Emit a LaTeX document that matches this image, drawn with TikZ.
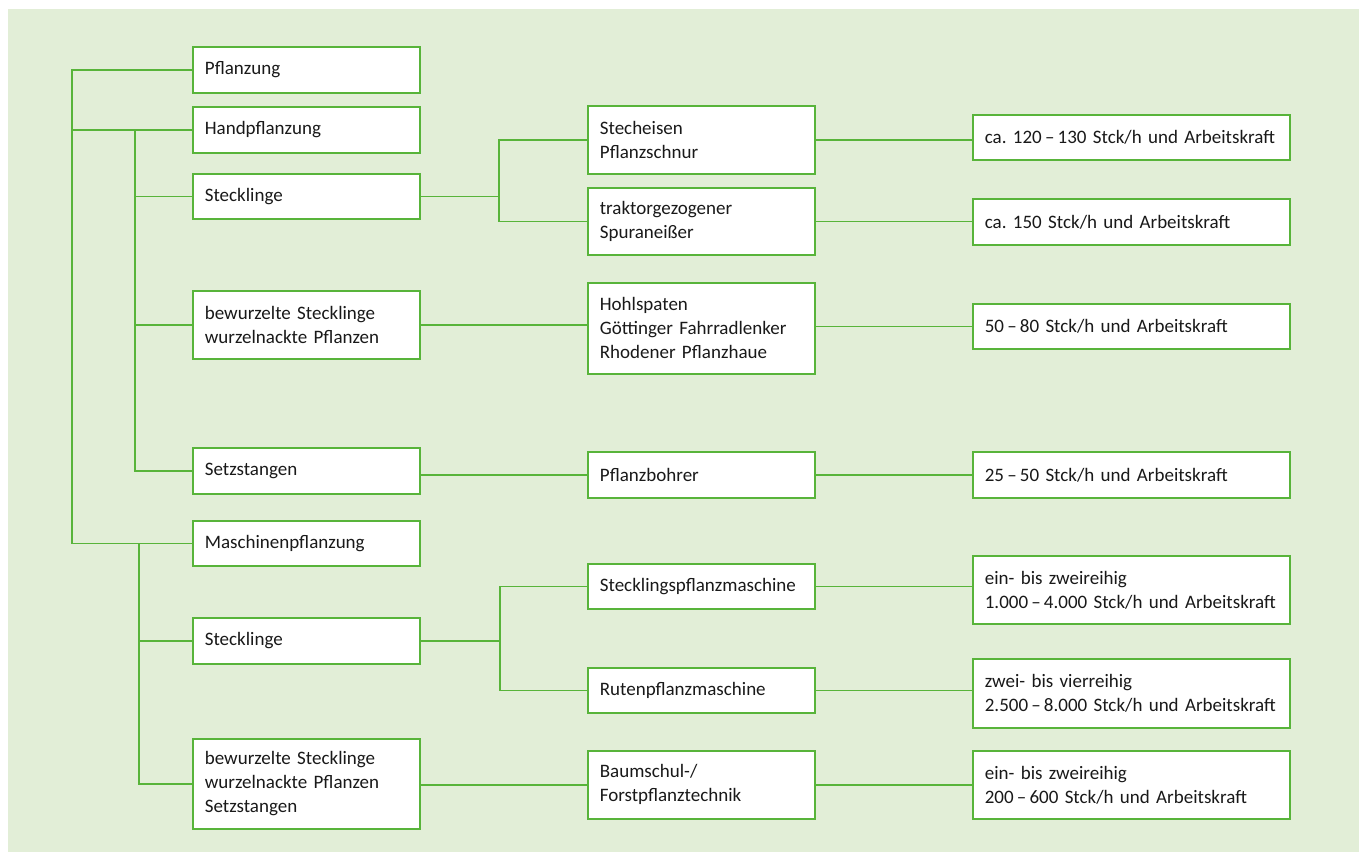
\documentclass[tikz,border=0pt]{standalone}
\usepackage{fontspec}
\setmainfont{Carlito}
\definecolor{bggreen}{RGB}{226,238,215}
\definecolor{lgreen}{RGB}{88,180,58}
\definecolor{txt}{RGB}{25,25,25}
\frenchspacing
\begin{document}
\begin{tikzpicture}[x=1pt,y=-1pt,
  conn/.style={draw=lgreen, line width=1.6pt},
  box/.style={draw=lgreen, fill=white, line width=1.7pt, anchor=north west,
    inner xsep=12pt, inner ysep=0pt, align=left, text=txt,
    font=\fontsize{19}{24}\selectfont\frenchspacing},
  c1/.style={box, text width=203pt},
  c2/.style={box, text width=203pt},
  c3/.style={box, text width=293pt}]
\useasboundingbox (0,0) rectangle (1359,852);
\fill[bggreen] (8,9) rectangle (1359,852);
% column 1
\node[c1, minimum height=46pt] (A) at (192,46) {Pflanzung};
\node[c1, minimum height=46pt] (B) at (192,106) {Handpflanzung};
\node[c1, minimum height=45pt] (C) at (192,173) {Stecklinge};
\node[c1, minimum height=68pt] (D) at (192,290) {bewurzelte Stecklinge\\wurzelnackte Pflanzen};
\node[c1, minimum height=46pt] (E) at (192,447) {Setzstangen};
\node[c1, minimum height=45pt] (F) at (192,520) {Maschinenpflanzung};
\node[c1, minimum height=46pt] (G) at (192,617) {Stecklinge};
\node[c1, minimum height=90pt] (H) at (192,738) {bewurzelte Stecklinge\\wurzelnackte Pflanzen\\Setzstangen};
% column 2
\node[c2, minimum height=68pt] (I) at (587,105) {Stecheisen\\Pflanzschnur};
\node[c2, minimum height=67pt] (J) at (587,187) {traktorgezogener\\Spuraneißer};
\node[c2, minimum height=91pt] (K) at (587,282) {Hohlspaten\\Göttinger Fahrradlenker\\Rhodener Pflanzhaue};
\node[c2, minimum height=46pt] (L) at (587,451) {Pflanzbohrer};
\node[c2, minimum height=45pt] (M) at (587,563) {Stecklingspflanzmaschine};
\node[c2, minimum height=45pt] (N) at (587,667) {Rutenpflanzmaschine};
\node[c2, minimum height=68pt] (O) at (587,750) {Baumschul-/\\Forstpflanztechnik};
% column 3
\node[c3, minimum height=45pt] (P) at (972,114) {ca. 120\,–\,130 Stck/h und Arbeitskraft};
\node[c3, minimum height=46pt] (Q) at (972,198) {ca. 150 Stck/h und Arbeitskraft};
\node[c3, minimum height=45pt] (R) at (972,303) {50\,–\,80 Stck/h und Arbeitskraft};
\node[c3, minimum height=46pt] (S) at (972,451) {25\,–\,50 Stck/h und Arbeitskraft};
\node[c3, minimum height=68pt] (T) at (972,555) {ein- bis zweireihig\\1.000\,–\,4.000 Stck/h und Arbeitskraft};
\node[c3, minimum height=69pt] (U) at (972,658) {zwei- bis vierreihig\\2.500\,–\,8.000 Stck/h und Arbeitskraft};
\node[c3, minimum height=68pt] (V) at (972,750) {ein- bis zweireihig\\200\,–\,600 Stck/h und Arbeitskraft};
% junction coordinates
\coordinate (j0) at (72,0);
\coordinate (j1) at (135,0);
\coordinate (j2) at (139,0);
\coordinate (j3) at (499,0);
\coordinate (j4) at (500,0);
% trunk
\draw[conn] (A.west) -- (A.west -| j0) |- (F.west);
\draw[conn] (j0 |- B.west) -- (B.west);
% hand subtree
\draw[conn] (B.west -| j1) |- (E.west);
\draw[conn] (j1 |- C.west) -- (C.west);
\draw[conn] (j1 |- D.west) -- (D.west);
% machine subtree
\draw[conn] (F.west -| j2) |- (H.west);
\draw[conn] (j2 |- G.west) -- (G.west);
% splits
\draw[conn] (C.east) -- (C.east -| j3);
\draw[conn] (I.west) -- (I.west -| j3) -- (J.west -| j3) -- (J.west);
\draw[conn] (G.east) -- (G.east -| j4);
\draw[conn] (M.west) -- (M.west -| j4) -- (N.west -| j4) -- (N.west);
% straight connections
\draw[conn] (D.east) -- (D.east -| K.west);
\draw[conn] (E.east |- L.west) -- (L.west);
\draw[conn] (H.east |- O.west) -- (O.west);
\draw[conn] (I.east) -- (I.east -| P.west);
\draw[conn] (J.east) -- (J.east -| Q.west);
\draw[conn] (K.east |- R.west) -- (R.west);
\draw[conn] (L.east) -- (S.west);
\draw[conn] (M.east) -- (M.east -| T.west);
\draw[conn] (N.east) -- (N.east -| U.west);
\draw[conn] (O.east) -- (V.west);
\end{tikzpicture}
\end{document}
